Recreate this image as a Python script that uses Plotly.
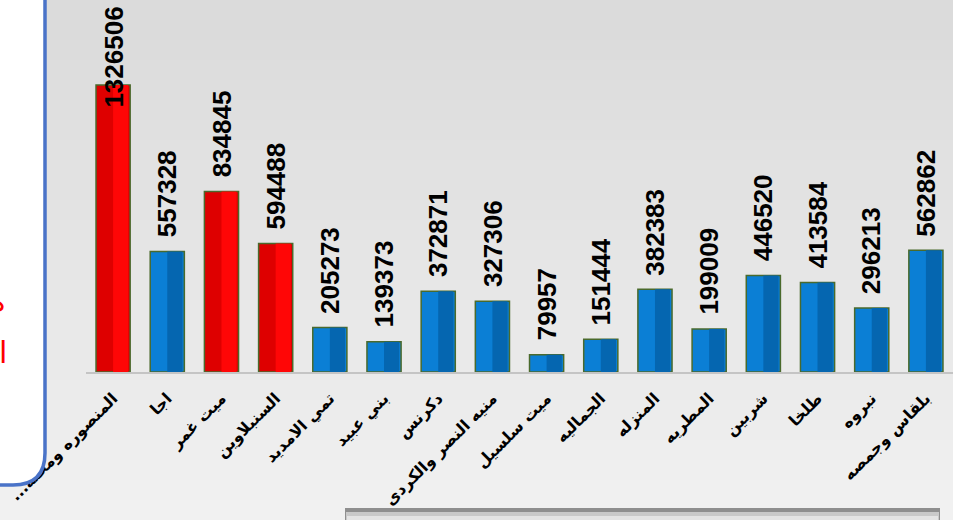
import plotly.graph_objects as go

# data
centres = ['...المنصوره ومحله', 'اجا', 'ميت غمر', 'السنبلاوين', 'تمي الامديد', 'بني عبيد',
           'دكرنس', 'منيه النصر والكردى', 'ميت سلسيل', 'الجماليه', 'المنزله', 'المطريه',
           'شربين', 'طلخا', 'نبروه', 'بلقاس وجمصه']
values = [1326506, 557328, 834845, 594488, 205273, 139373, 372871, 327306,
          79957, 151444, 382383, 199009, 446520, 413584, 296213, 562862]
highlight = [True, False, True, True, False, False, False, False,
             False, False, False, False, False, False, False, False]

W, H = 953, 520
L_M, B_M = 86, 148
PW, PH = W - L_M, H - B_M
YMAX = 1719400


def px(x):
    return (x - L_M) / PW


def py(y):
    return (PH - y) / PH


left_col = ['#de0000' if h else '#0b7fd5' for h in highlight]
right_col = ['#ff0606' if h else '#0566b0' for h in highlight]

fig = go.Figure()
fig.add_trace(go.Bar(
    x=centres, y=values, width=0.63,
    marker=dict(color=left_col, line=dict(color='#4a6a2c', width=1.5)),
    hoverinfo='x+y'
))
fig.add_trace(go.Bar(
    x=centres, y=values, width=0.28, offset=0,
    marker=dict(color=right_col, line=dict(width=0)),
    hoverinfo='skip'
))

# value labels, pushed down when they would run past the top like the source does
label_px = 110
for c, v in zip(centres, values):
    ly = min(v, YMAX - label_px / PH * YMAX)
    fig.add_annotation(
        x=c, y=ly, text=str(v), showarrow=False, textangle=-90,
        yanchor='bottom', yshift=12 if ly == v else 0,
        font=dict(family='Liberation Sans, Arial', size=26, color='black', weight='bold')
    )

shapes = []
# soft grey background
steps = 26
for i in range(steps):
    g = int(0xdb + (0xf1 - 0xdb) * i / (steps - 1))
    col = '#%02x%02x%02x' % (g, g, g)
    shapes.append(dict(type='rect', xref='paper', yref='paper', layer='below',
                       x0=px(0), x1=px(W), y0=py(H * i / steps), y1=py(H * (i + 1) / steps + 1),
                       fillcolor=col, line=dict(width=0)))

# rounded box on the left, mostly cut off
r = 32
bx0, bx1, by0, by1 = -40, 45, -40, 485
path = ('M %f,%f L %f,%f Q %f,%f %f,%f L %f,%f Q %f,%f %f,%f L %f,%f Z' % (
    px(bx0), py(by0), px(bx1 - r), py(by0), px(bx1), py(by0), px(bx1), py(by0 + r),
    px(bx1), py(by1 - r), px(bx1), py(by1), px(bx1 - r), py(by1), px(bx0), py(by1)))
shapes.append(dict(type='path', xref='paper', yref='paper', path=path,
                   fillcolor='white', line=dict(color='#4a73c8', width=3.5)))

# shadowed box at the bottom right
shapes.append(dict(type='rect', xref='paper', yref='paper',
                   x0=px(345), x1=px(940), y0=py(508), y1=py(540),
                   fillcolor='#8f8f8f', line=dict(width=0)))
shapes.append(dict(type='rect', xref='paper', yref='paper',
                   x0=px(346), x1=px(939), y0=py(512), y1=py(540),
                   fillcolor='#c9c9c9', line=dict(width=0)))
shapes.append(dict(type='rect', xref='paper', yref='paper',
                   x0=px(347), x1=px(938), y0=py(516), y1=py(540),
                   fillcolor='#e4e4e4', line=dict(width=0)))

fig.add_annotation(xref='paper', yref='paper', x=px(8), y=py(300), text='ه',
                   showarrow=False, xanchor='right', yanchor='middle',
                   font=dict(family='DejaVu Sans', size=30, color='#ff0000'))
fig.add_annotation(xref='paper', yref='paper', x=px(9), y=py(352), text='ا',
                   showarrow=False, xanchor='right', yanchor='middle',
                   font=dict(family='DejaVu Sans', size=30, color='#ff0000'))

fig.update_layout(
    width=W, height=H,
    barmode='overlay',
    showlegend=False,
    paper_bgcolor='#e6e6e6',
    plot_bgcolor='rgba(0,0,0,0)',
    margin=dict(l=L_M, r=0, t=0, b=B_M),
    shapes=shapes
)

fig.update_xaxes(
    tickangle=-45, ticklabelstandoff=9,
    tickfont=dict(family='DejaVu Sans', size=16, color='black', weight='bold'),
    showline=True, linecolor='#c4c4c4', linewidth=1.5,
    showgrid=False, ticks=''
)

fig.update_yaxes(range=[0, YMAX], visible=False, showgrid=False)

fig.write_html('out.html', config={'displayModeBar': False},
               post_script="document.body.style.margin='0';")
